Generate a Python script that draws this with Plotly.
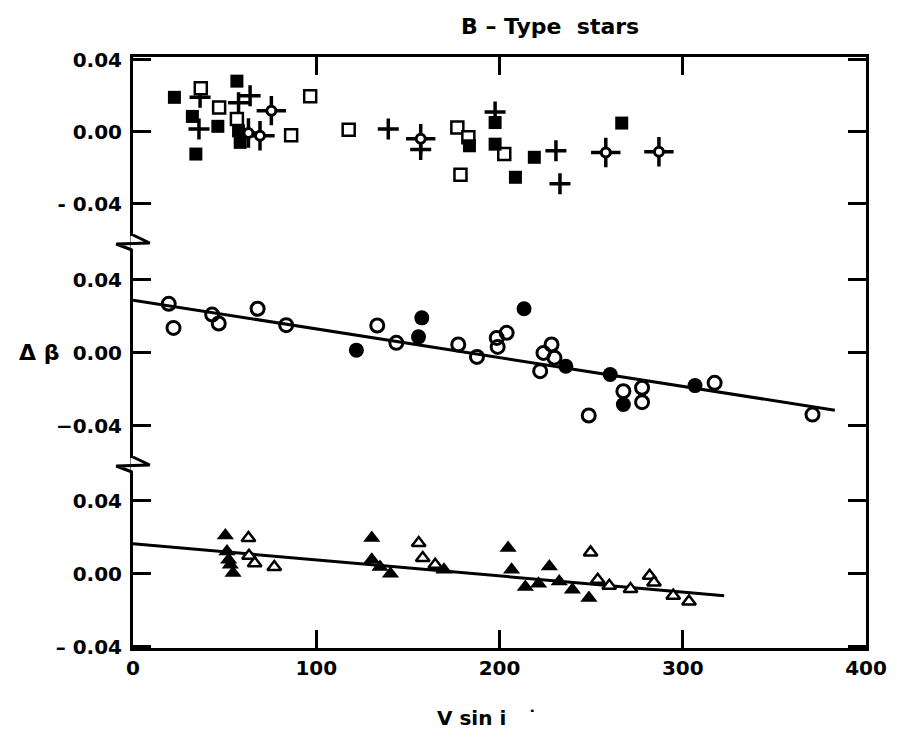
import plotly.graph_objects as go
from plotly.subplots import make_subplots

# ---------------- data ----------------
x_ticks = [0, 100, 200, 300, 400]
y_ticks = [-0.04, 0.0, 0.04]
top_ticktext = ["- 0.04", "0.00", "0.04"]
mid_ticktext = ["\u22120.04", "0.00", "0.04"]
bot_ticktext = ["\u2013 0.04", "0.00", "0.04"]

# top panel
top_fsq_x = [22.6, 32.4, 34.3, 46.3, 56.7, 57.6, 58.5, 183.6, 197.6, 197.6, 208.7, 219.0, 266.7]
top_fsq_y = [0.019, 0.0084, -0.0125, 0.0029, 0.028, 0.0004, -0.006, -0.0079, 0.005, -0.007, -0.0254, -0.0143, 0.0047]
top_osq_x = [37.0, 47.0, 56.7, 86.3, 96.7, 117.7, 177.0, 183.0, 178.7, 202.6]
top_osq_y = [0.024, 0.0134, 0.0069, -0.002, 0.0196, 0.001, 0.0023, -0.0032, -0.024, -0.0125]
top_plus_x = [36.6, 36.0, 63.9, 57.6, 139.3, 157.0, 197.6, 230.8, 233.0]
top_plus_y = [0.019, 0.0014, 0.0199, 0.016, 0.0014, -0.010, 0.0108, -0.0107, -0.029]
top_star_x = [63.0, 69.3, 75.5, 157.0, 258.0, 287.0]
top_star_y = [-0.0008, -0.0023, 0.0116, -0.004, -0.0116, -0.0112]

# middle panel
mid_open_x = [19.5, 22.1, 43.2, 46.8, 68.0, 83.6, 133.3, 143.7, 177.5, 187.7, 198.5, 199.0, 203.9,
              228.4, 224.0, 230.0, 222.2, 267.6, 277.8, 277.8, 248.7, 317.4, 370.8]
mid_open_y = [0.0267, 0.0135, 0.0208, 0.0159, 0.024, 0.015, 0.0148, 0.0053, 0.0044, -0.0024, 0.008, 0.0031, 0.0108,
              0.0044, -0.0002, -0.0029, -0.0102, -0.0212, -0.0193, -0.0272, -0.0345, -0.0166, -0.034]
mid_fill_x = [121.9, 155.8, 157.6, 213.4, 236.2, 260.4, 267.6, 306.7]
mid_fill_y = [0.0013, 0.0086, 0.019, 0.024, -0.0075, -0.012, -0.0285, -0.0181]
mid_fit_x = [0, 383]
mid_fit_y = [0.0287, -0.0316]

# bottom panel
bot_fill_x = [50.4, 51.3, 52.2, 53.1, 54.6, 130.3, 130.3, 134.8, 140.5, 169.7, 204.7, 206.6,
              214.1, 221.3, 227.2, 232.6, 239.8, 248.8]
bot_fill_y = [0.021, 0.0122, 0.0077, 0.0049, 0.0004, 0.0196, 0.0077, 0.0037, 0.0, 0.0022, 0.0141, 0.0022,
              -0.0073, -0.0055, 0.004, -0.0042, -0.0088, -0.0133]
bot_open_x = [63.0, 63.3, 66.4, 77.1, 155.9, 158.1, 164.9, 249.7, 253.6, 259.9, 271.5, 281.9, 284.3, 294.8, 303.4]
bot_open_y = [0.0196, 0.0099, 0.0058, 0.0037, 0.0168, 0.0086, 0.0049, 0.0117, -0.0033, -0.0066, -0.0084,
              -0.0011, -0.0048, -0.012, -0.0152]
bot_fit_x = [0, 322.6]
bot_fit_y = [0.0164, -0.012]

# ---------------- figure ----------------
W, H = 899, 740
ML, MR, MT, MB = 133, 23, 57, 92
PW, PH = W - ML - MR, H - MT - MB
brk1 = (648 - 243) / PH
brk2 = (648 - 465) / PH

fig = make_subplots(rows=3, cols=1, shared_xaxes=True, vertical_spacing=0)
K = "black"
FONT = dict(family="DejaVu Sans", size=20, color=K, weight="bold")


def sc(x, y, row, **kw):
    fig.add_trace(go.Scatter(x=x, y=y, showlegend=False, hoverinfo="skip", **kw), row=row, col=1)


# top panel
sc(top_plus_x, top_plus_y, 1, mode="markers",
   marker=dict(symbol="cross-thin-open", size=15, color=K, line=dict(width=3.5, color=K)))
sc(top_star_x, top_star_y, 1, mode="markers",
   marker=dict(symbol="cross-thin-open", size=21, color=K, line=dict(width=3.5, color=K)))
sc(top_star_x, top_star_y, 1, mode="markers",
   marker=dict(symbol="circle", size=9, color="white", line=dict(width=3, color=K)))
sc(top_osq_x, top_osq_y, 1, mode="markers",
   marker=dict(symbol="square", size=12, color="white", line=dict(width=2.5, color=K)))
sc(top_fsq_x, top_fsq_y, 1, mode="markers",
   marker=dict(symbol="square", size=13, color=K, line=dict(width=0)))

# middle panel
sc(mid_fit_x, mid_fit_y, 2, mode="lines", line=dict(color=K, width=3))
sc(mid_open_x, mid_open_y, 2, mode="markers",
   marker=dict(symbol="circle-open", size=13, color=K, line=dict(width=3, color=K)))
sc(mid_fill_x, mid_fill_y, 2, mode="markers",
   marker=dict(symbol="circle", size=15, color=K, line=dict(width=0)))

# bottom panel
sc(bot_fit_x, bot_fit_y, 3, mode="lines", line=dict(color=K, width=3))
sc(bot_open_x, bot_open_y, 3, mode="markers",
   marker=dict(symbol="triangle-up", size=12, color="white", line=dict(width=2.5, color=K)))
sc(bot_fill_x, bot_fill_y, 3, mode="markers",
   marker=dict(symbol="triangle-up", size=15, color=K, line=dict(width=0)))

yax_common = dict(showline=True, linewidth=3, linecolor=K, mirror="ticks", ticks="inside",
                  ticklen=18, tickwidth=3, tickcolor=K, showgrid=False, zeroline=False,
                  tickvals=y_ticks, tickfont=FONT, ticklabelstandoff=4)
fig.update_layout(
    yaxis=dict(domain=[brk1, 1], range=[-0.0619, 0.0414], ticktext=top_ticktext, **yax_common),
    yaxis2=dict(domain=[brk2, brk1], range=[-0.0616, 0.060], ticktext=mid_ticktext, **yax_common),
    yaxis3=dict(domain=[0, brk2], range=[-0.0407, 0.0596], ticktext=bot_ticktext, **yax_common),
)
xax_common = dict(range=[0, 400], tickvals=x_ticks, showgrid=False, zeroline=False,
                  linecolor=K, tickcolor=K)
fig.update_xaxes(**xax_common)
fig.update_layout(
    xaxis=dict(side="top", showline=True, linewidth=3, ticks="inside", ticklen=18, tickwidth=3,
               showticklabels=False, **xax_common),
    xaxis2=dict(showline=False, ticks="", showticklabels=False, **xax_common),
    xaxis3=dict(showline=True, linewidth=3, ticks="inside", ticklen=18, tickwidth=3,
                showticklabels=True, tickfont=FONT, **xax_common),
)

# axis break marks on the left axis
shapes = []
px_x = 1.0 / PW
px_y = 1.0 / PH
for yb in (brk1, brk2):
    shapes.append(dict(type="line", xref="paper", yref="paper", x0=0, x1=0,
                       y0=yb + 7 * px_y, y1=yb - 6 * px_y, line=dict(color="white", width=5)))
    path = "M {} {} L {} {} L {} {} L {} {}".format(
        0, yb + 8 * px_y, 17 * px_x, yb, -17 * px_x, yb - 1 * px_y, -1 * px_x, yb - 7 * px_y)
    shapes.append(dict(type="path", xref="paper", yref="paper", path=path,
                       line=dict(color=K, width=3)))

annotations = [
    dict(text="B \u2013 Type  stars", xref="paper", yref="paper", x=(556 - ML) / PW, y=1 + 31 / PH,
         showarrow=False, font=dict(family="DejaVu Sans", size=22, color=K, weight="bold"),
         xanchor="center", yanchor="middle"),
    dict(text="V sin i   \u02d9", xref="paper", yref="paper", x=(492 - ML) / PW, y=-70 / PH,
         showarrow=False, font=dict(family="DejaVu Sans", size=20, color=K, weight="bold"),
         xanchor="center", yanchor="middle"),
    dict(text="\u0394 \u03b2", xref="paper", yref="paper", x=(38 - ML) / PW, y=(648 - 352) / PH,
         showarrow=False, font=dict(family="DejaVu Sans", size=22, color=K, weight="bold"),
         xanchor="center", yanchor="middle"),
]

fig.update_layout(
    width=W, height=H, margin=dict(l=ML, r=MR, t=MT, b=MB, pad=0),
    paper_bgcolor="white", plot_bgcolor="white",
    shapes=shapes, annotations=annotations, showlegend=False,
)

fig.write_html("out.html")
